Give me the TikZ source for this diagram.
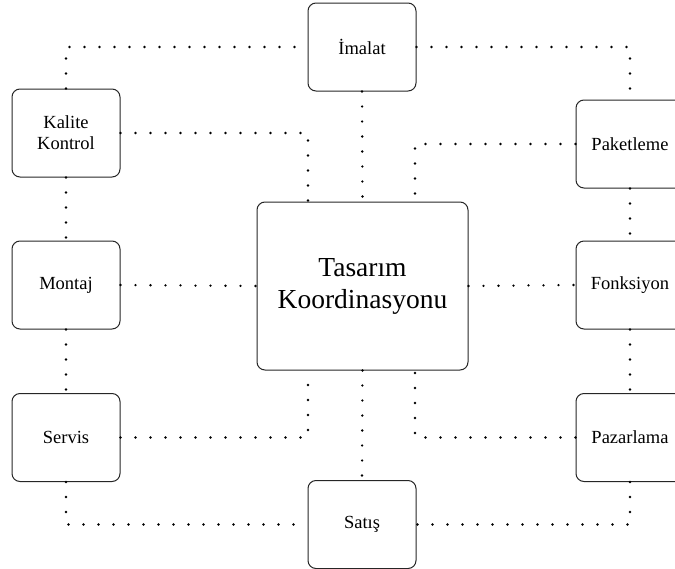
\documentclass[tikz,border=0pt]{standalone}
\usepackage{fontspec}
\setmainfont{Liberation Serif}
\usetikzlibrary{calc}
\begin{document}
\begin{tikzpicture}[x=1pt,y=-1pt,
  unit/.style={draw=black!85, line width=1pt, rounded corners=8pt,
    minimum width=108pt, minimum height=88pt, align=center, inner sep=0pt,
    font=\fontsize{18.5}{21}\selectfont},
  hub/.style={unit, minimum width=211pt, minimum height=168pt,
    font=\fontsize{27.5}{32}\selectfont},
  link/.style={line width=2.6pt, line cap=round, dash pattern=on 0pt off 15pt}]
\useasboundingbox (0,0) rectangle (675,568);

\node[hub]  (tas) at (362.5,286) {Tasarım\\Koordinasyonu};
\node[unit] (ima) at (362,47)  {İmalat};
\node[unit] (kal) at (66,133)  {Kalite\\Kontrol};
\node[unit] (mon) at (66,285)  {Montaj};
\node[unit] (ser) at (66,437.5) {Servis};
\node[unit] (sat) at (362,524.5) {Satış};
\node[unit] (pak) at (630,144) {Paketleme};
\node[unit] (fon) at (630,285) {Fonksiyon};
\node[unit] (paz) at (630,437.5) {Pazarlama};

% outer ring
\draw[link] (kal.north) |- (ima.west);
\draw[link] (ima.east) -| (pak.north);
\draw[link] (kal.south) -- (mon.north);
\draw[link] (mon.south) -- (ser.north);
\draw[link] (pak.south) -- (fon.north);
\draw[link] (fon.south) -- (paz.north);
\draw[link] (ser.south) |- (sat.west);
\draw[link] (paz.south) |- (sat.east);

% spokes to the hub
\draw[link] (ima.south) -- (tas.north);
\draw[link] (tas.south) -- (sat.north);
\draw[link] (mon.east) -- (tas.west);
\draw[link] (tas.east) -- (fon.west);
\draw[link] (kal.east) -| ($(tas.north)+(-54.5,0)$);
\draw[link] (pak.west) -| ($(tas.north)+(52.5,0)$);
\draw[link] (ser.east) -| ($(tas.south)+(-54.5,0)$);
\draw[link] (paz.west) -| ($(tas.south)+(52.5,0)$);
\end{tikzpicture}
\end{document}
